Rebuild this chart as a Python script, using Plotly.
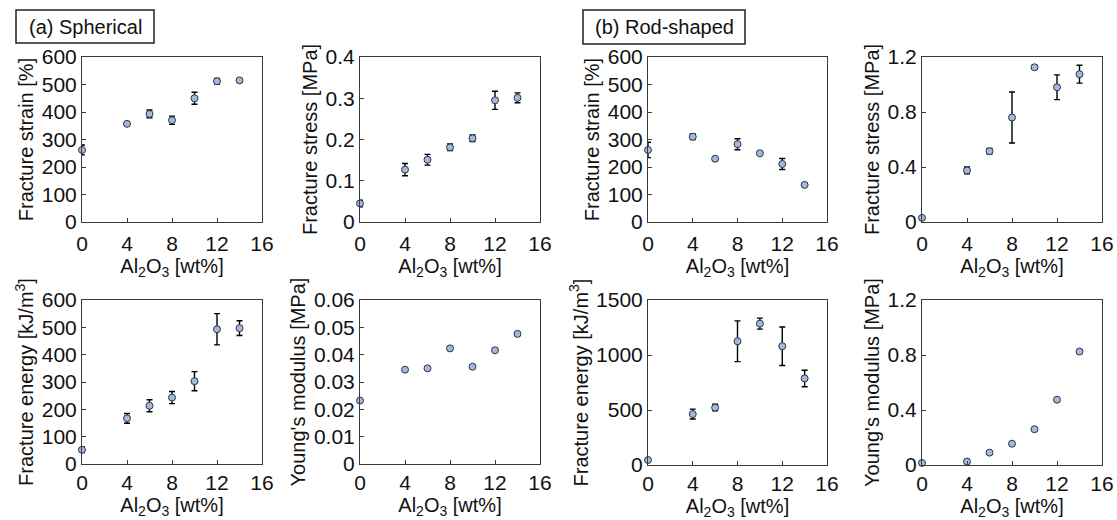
import plotly.graph_objects as go

# ---------------- data ----------------
x_wt = [0, 4, 6, 8, 10, 12, 14]

sph_strain = [262, 357, 393, 370, 450, 512, 515]
sph_strain_err = [18, 6, 14, 15, 22, 10, 0]
sph_stress = [0.045, 0.127, 0.151, 0.181, 0.203, 0.295, 0.301]
sph_stress_err = [0.008, 0.015, 0.013, 0.008, 0.008, 0.022, 0.012]
sph_energy = [52, 167, 213, 243, 303, 493, 497]
sph_energy_err = [10, 18, 22, 22, 35, 57, 27]
sph_young = [0.0232, 0.0345, 0.0350, 0.0423, 0.0356, 0.0416, 0.0476]

rod_strain = [262, 310, 230, 283, 250, 211, 135]
rod_strain_err = [28, 10, 5, 20, 5, 20, 5]
rod_stress = [0.03, 0.375, 0.515, 0.76, 1.125, 0.98, 1.075]
rod_stress_err = [0.0, 0.025, 0.02, 0.185, 0.015, 0.09, 0.065]
rod_energy = [45, 463, 522, 1125, 1285, 1080, 787]
rod_energy_err = [0, 45, 30, 185, 50, 175, 75]
rod_young = [0.015, 0.025, 0.09, 0.155, 0.26, 0.475, 0.825]

x_ticks = [0, 4, 8, 12, 16]
x_ticktext = ["0", "4", "8", "12", "16"]

strain_ticks = [0, 100, 200, 300, 400, 500, 600]
sph_stress_ticks = [0, 0.1, 0.2, 0.3, 0.4]
sph_stress_text = ["0", "0.1", "0.2", "0.3", "0.4"]
sph_energy_ticks = [0, 100, 200, 300, 400, 500, 600]
sph_young_ticks = [0, 0.01, 0.02, 0.03, 0.04, 0.05, 0.06]
sph_young_text = ["0", "0.01", "0.02", "0.03", "0.04", "0.05", "0.06"]
rod_stress_ticks = [0, 0.4, 0.8, 1.2]
rod_stress_text = ["0", "0.4", "0.8", "1.2"]
rod_energy_ticks = [0, 500, 1000, 1500]
rod_young_ticks = [0, 0.4, 0.8, 1.2]
rod_young_text = ["0", "0.4", "0.8", "1.2"]

y_titles = [
    "Fracture strain [%]", "Fracture stress [MPa]",
    "Fracture strain [%]", "Fracture stress [MPa]",
    "Fracture energy [kJ/m<sup>3</sup>]", "Young's modulus [MPa]",
    "Fracture energy [kJ/m<sup>3</sup>]", "Young's modulus [MPa]",
]
x_title = "Al<sub>2</sub>O<sub>3</sub> [wt%]"
panel_labels = ["(a) Spherical", "(b) Rod-shaped"]

# ---------------- layout geometry (screen pixels) ----------------
W, H = 1117, 520

boxes = [
    (82, 262, 57, 222), (360, 540, 57, 222), (648, 827, 57, 222), (922, 1102, 57, 222),
    (82, 262, 300, 464), (360, 540, 300, 464), (648, 827, 300, 465), (922, 1102, 300, 465),
]


def px(x):
    return x / W


def py(y):
    return 1 - y / H


series = [
    (sph_strain, sph_strain_err, strain_ticks, [str(v) for v in strain_ticks], [0, 600]),
    (sph_stress, sph_stress_err, sph_stress_ticks, sph_stress_text, [0, 0.4]),
    (rod_strain, rod_strain_err, strain_ticks, [str(v) for v in strain_ticks], [0, 600]),
    (rod_stress, rod_stress_err, rod_stress_ticks, rod_stress_text, [0, 1.2]),
    (sph_energy, sph_energy_err, sph_energy_ticks, [str(v) for v in sph_energy_ticks], [0, 600]),
    (sph_young, None, sph_young_ticks, sph_young_text, [0, 0.06]),
    (rod_energy, rod_energy_err, rod_energy_ticks, [str(v) for v in rod_energy_ticks], [0, 1500]),
    (rod_young, None, rod_young_ticks, rod_young_text, [0, 1.2]),
]

FONT = "Liberation Sans, Arial, sans-serif"
AXC = "#3a3a3a"
TICK_FS = 21
TITLE_FS = 20
fig = go.Figure()
layout = dict(
    width=W, height=H,
    margin=dict(l=0, r=0, t=0, b=0, pad=0, autoexpand=False),
    paper_bgcolor="white", plot_bgcolor="white",
    showlegend=False,
    font=dict(family=FONT, size=TICK_FS, color="#111"),
)

for i, ((yv, ye, yt, ytt, yr), (x0, x1, y0, y1)) in enumerate(zip(series, boxes)):
    n = i + 1
    xa = "x" if n == 1 else f"x{n}"
    ya = "y" if n == 1 else f"y{n}"
    top_row = i < 4
    err = dict(type="data", array=ye, visible=True, color="black", thickness=1.4, width=3) if ye else None
    fig.add_trace(go.Scatter(
        x=x_wt, y=yv, mode="markers", xaxis=xa, yaxis=ya, cliponaxis=False,
        marker=dict(size=7, color="#a3b8de", line=dict(color="#2f3340", width=1)),
        error_y=err,
    ))
    layout["xaxis" if n == 1 else f"xaxis{n}"] = dict(
        domain=[px(x0), px(x1)], anchor=ya, range=[0, 16], automargin=False,
        tickvals=x_ticks, ticktext=x_ticktext, ticks="inside", ticklen=4,
        ticklabelstandoff=3 if top_row else 0,
        tickcolor=AXC, showline=True, linecolor=AXC, linewidth=1, mirror=True,
        showgrid=False, zeroline=False, tickfont=dict(size=TICK_FS),
        title=dict(text=x_title, font=dict(size=TITLE_FS), standoff=0 if top_row else 3),
    )
    layout["yaxis" if n == 1 else f"yaxis{n}"] = dict(
        domain=[py(y1), py(y0)], anchor=xa, range=yr, automargin=False,
        tickvals=yt, ticktext=ytt, ticks="inside", ticklen=4,
        tickcolor=AXC, showline=True, linecolor=AXC, linewidth=1, mirror=True,
        showgrid=False, zeroline=False, tickfont=dict(size=TICK_FS),
        title=dict(text=y_titles[i], font=dict(size=TITLE_FS), standoff=2),
    )

# panel label boxes
shapes = []
annotations = []
for lab, (bx0, bx1, by0, by1) in zip(panel_labels, [(16, 154, 10, 43), (583, 745, 10, 44)]):
    shapes.append(dict(type="rect", xref="paper", yref="paper",
                       x0=px(bx0), x1=px(bx1), y0=py(by1), y1=py(by0),
                       line=dict(color="#222", width=1.5), fillcolor="rgba(0,0,0,0)"))
    annotations.append(dict(text=lab, xref="paper", yref="paper",
                            x=px((bx0 + bx1) / 2), y=py((by0 + by1) / 2),
                            xanchor="center", yanchor="middle", showarrow=False,
                            font=dict(size=20, family=FONT, color="#111")))
layout["shapes"] = shapes
layout["annotations"] = annotations
fig.update_layout(**layout)
fig.write_html("out.html", config={"displayModeBar": False},
               post_script="document.body.style.margin='0px';")
